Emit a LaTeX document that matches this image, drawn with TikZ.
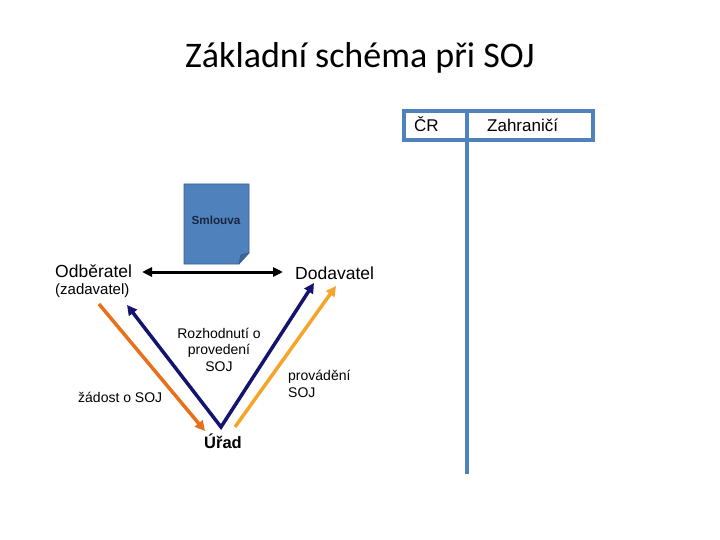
\documentclass[tikz,border=0pt]{standalone}
\usepackage{fontspec}
\setmainfont{Liberation Sans}
\newfontfamily\titlefont{Carlito}
\usetikzlibrary{arrows.meta}
\definecolor{tblue}{HTML}{4F81BD}
\definecolor{docborder}{HTML}{385D8A}
\definecolor{doctext}{HTML}{1A2440}
\definecolor{navy}{HTML}{14146E}
\definecolor{dorange}{HTML}{E8701A}
\definecolor{lorange}{HTML}{F5A62A}
\tikzset{
  lbl/.style={inner sep=0pt, font=\fontsize{14}{16.5}\selectfont},
  big/.style={inner sep=0pt, font=\fontsize{17.5}{20}\selectfont},
  vline/.style={line width=3.5pt, -{Triangle[length=10pt,width=10pt]}},
  tline/.style={tblue, line width=3.5pt}
}
\begin{document}
\begin{tikzpicture}[x=1pt,y=-1pt]
\useasboundingbox[fill=white] (0,0) rectangle (720,540);
% title
\node[inner sep=0pt, anchor=base, font=\titlefont\fontsize{36}{42}\selectfont] (title) at (360,68) {Základní schéma při SOJ};
% table
\draw[tline] (404,111) rectangle (593,140);
\coordinate (vt) at (467,111);
\coordinate (vb) at (467,474);
\draw[tline] (vt) -- (vb);
\node[inner sep=0pt, font=\fontsize{17}{20}\selectfont, anchor=base west] (cr) at (414,132) {ČR};
\node[inner sep=0pt, font=\fontsize{17}{20}\selectfont, anchor=base west] (zahr) at (487,132) {Zahraničí};
% document
\draw[docborder, fill=tblue, line width=0.8pt] (184,184) -- (249,184) -- (249,253) -- (239,264) -- (184,264) -- cycle;
\draw[docborder, fill=tblue!80!black, line width=0.8pt] (249,253) -- (241,255) -- (239,264);
\node[inner sep=0pt, font=\bfseries\fontsize{11.7}{14}\selectfont, text=doctext] (smlouva) at (216,220) {Smlouva};
% parties
\node[big, anchor=base west] (odb) at (55,277) {Odběratel};
\node[inner sep=0pt, font=\fontsize{15}{18}\selectfont, anchor=base west] (zad) at (55,294) {(zadavatel)};
\node[big, anchor=base west] (dod) at (295,279) {Dodavatel};
\node[inner sep=0pt, font=\bfseries\fontsize{16.5}{19}\selectfont, anchor=base] (urad) at (223,448) {Úřad};
% labels
\node[lbl, align=center, anchor=base] (rozh) at (219,371) {Rozhodnutí o\\provedení\\SOJ};
\node[lbl, anchor=base west] (zadost) at (78,402) {žádost o SOJ};
\node[lbl, align=left, anchor=base west] (prov) at (288,397) {provádění\\SOJ};
% contract arrow
\coordinate (ca) at (142,272);
\coordinate (cb) at (283,272);
\draw[line width=3pt, {Triangle[length=10pt,width=9pt]}-{Triangle[length=10pt,width=9pt]}] (ca) -- (cb);
% V arrows
\coordinate (o1) at (99,304);
\coordinate (o2) at (205,431);
\draw[vline, dorange] (o1) -- (o2);
\coordinate (n1) at (127,305);
\coordinate (nv) at (221,427);
\coordinate (n2) at (314,283);
\draw[line width=3.5pt, navy, {Triangle[length=10pt,width=10pt]}-{Triangle[length=10pt,width=10pt]}, line join=miter] (n1) -- (nv) -- (n2);
\coordinate (l1) at (235,427);
\coordinate (l2) at (336,286);
\draw[vline, lorange] (l1) -- (l2);
\end{tikzpicture}
\end{document}
